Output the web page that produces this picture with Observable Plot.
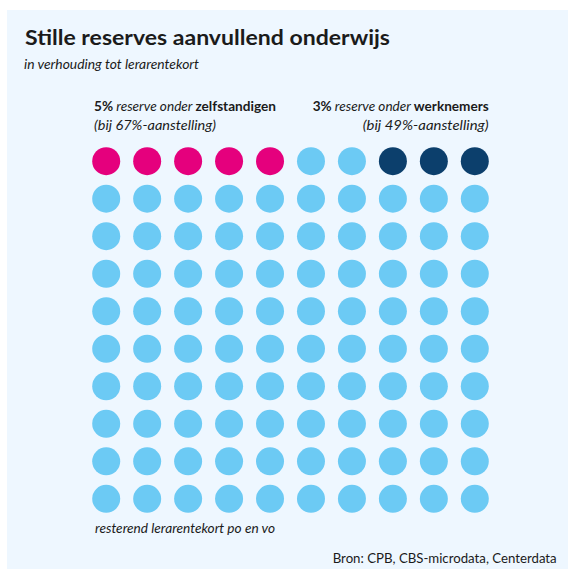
<!DOCTYPE html>
<html>
<head>
<meta charset="utf-8">
<script src="https://cdn.jsdelivr.net/npm/d3@7"></script>
<script src="https://cdn.jsdelivr.net/npm/@observablehq/plot@0.6"></script>
<style>
  html, body { margin: 0; padding: 0; background: #ffffff; }
  #wrap { position: relative; width: 568px; height: 569px; overflow: hidden; }
  #panel { position: absolute; left: 7px; top: 10px; width: 561px; height: 559px; background: #eef7ff; }
  #chart { position: absolute; left: 0; top: 0; }
  #chart svg { display: block; }
</style>
</head>
<body>
<div id="wrap"><div id="panel"></div><div id="chart"></div></div>
<script>
// ---- data ----
const groups = ["zelfstandigen", "resterend", "werknemers"];
const groupColors = ["#e5007d", "#6ccaf4", "#0c3f6c"];
const zelfstandigenReserve = 5;   // % reserve onder zelfstandigen
const werknemersReserve = 3;      // % reserve onder werknemers
const gridColumns = [0, 1, 2, 3, 4, 5, 6, 7, 8, 9];
const gridRows = [0, 1, 2, 3, 4, 5, 6, 7, 8, 9];

const titleText = "Stille reserves aanvullend onderwijs";
const subtitleText = "in verhouding tot lerarentekort";
const noteLeft = ["5%", " reserve onder ", "zelfstandigen", "(bij 67%-aanstelling)"];
const noteRight = ["3%", " reserve onder ", "werknemers", "(bij 49%-aanstelling)"];
const bottomLabel = "resterend lerarentekort po en vo";
const sourceText = "Bron: CPB, CBS-microdata, Centerdata";

// one cell per percent of the teacher shortage
const cells = [];
for (const row of gridRows) {
  for (const col of gridColumns) {
    let group = "resterend";
    if (row === 0 && col < zelfstandigenReserve) group = "zelfstandigen";
    if (row === 0 && col >= gridColumns.length - werknemersReserve) group = "werknemers";
    cells.push({row, col, group});
  }
}

const W = 568, H = 569;
const chart = Plot.plot({
  width: W,
  height: H,
  marginLeft: 105.7,
  marginRight: W - 474.3,
  marginTop: 160.7,
  marginBottom: H - 498.3,
  x: {domain: [0, 9], axis: null},
  y: {domain: [0, 9], reverse: true, axis: null},
  color: {domain: groups, range: groupColors},
  style: {background: "transparent", overflow: "visible"},
  marks: [
    Plot.dot(cells, {x: "col", y: "row", r: 14, fill: "group", stroke: "none"})
  ]
});
document.getElementById("chart").appendChild(chart);

// ---- texts ----
const svg = d3.select(chart);
const FONT = "Lato, 'Open Sans', 'Noto Sans', sans-serif";
const INK = "#1b1b1b";

function addText({x, y, len, size, anchor = "start", parts}) {
  const t = svg.append("text")
    .attr("x", x).attr("y", y)
    .attr("text-anchor", anchor)
    .attr("font-family", FONT)
    .attr("font-size", size)
    .attr("fill", INK)
    .attr("textLength", len)
    .attr("lengthAdjust", "spacingAndGlyphs")
    .style("white-space", "pre");
  for (const p of parts) {
    t.append("tspan")
      .attr("font-weight", p.bold ? 700 : 400)
      .attr("font-style", p.italic ? "italic" : "normal")
      .text(p.text);
  }
  return t;
}

addText({x: 25, y: 45, len: 365, size: 21.5, parts: [{text: titleText, bold: true}]});
addText({x: 24, y: 69, len: 175, size: 14, parts: [{text: subtitleText, italic: true}]});

addText({x: 94, y: 110.7, len: 182, size: 14, parts: [
  {text: noteLeft[0], bold: true},
  {text: noteLeft[1], italic: true},
  {text: noteLeft[2], bold: true}
]});
addText({x: 94, y: 129.5, len: 122, size: 14, parts: [{text: noteLeft[3], italic: true}]});

addText({x: 312.7, y: 110.7, len: 176, size: 14, parts: [
  {text: noteRight[0], bold: true},
  {text: noteRight[1], italic: true},
  {text: noteRight[2], bold: true}
]});
addText({x: 362.7, y: 129.5, len: 126, size: 14, parts: [{text: noteRight[3], italic: true}]});

addText({x: 95, y: 533, len: 180, size: 14, parts: [{text: bottomLabel, italic: true}]});
addText({x: 332.7, y: 563, len: 224, size: 13.1, parts: [{text: sourceText}]});
</script>
</body>
</html>
